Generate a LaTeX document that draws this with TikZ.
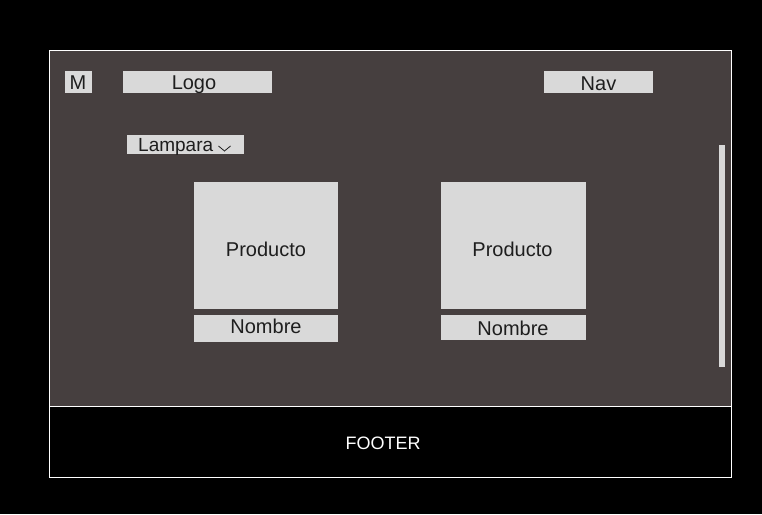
\documentclass[tikz,border=0pt]{standalone}
\usepackage{fontspec}
\setmainfont{Liberation Sans}
\definecolor{panel}{HTML}{463F3F}
\definecolor{boxgray}{HTML}{D9D9D9}
\definecolor{ink}{HTML}{1E1E1E}
\tikzset{
  box/.style={fill=boxgray, draw=none, inner sep=0pt},
  lbl/.style={text=ink, inner sep=0pt, anchor=base, font=\fontsize{20}{22}\selectfont},
  frame/.style={draw=white, line width=1pt},
}
\begin{document}
\begin{tikzpicture}[x=1pt,y=-1pt]
\fill[black] (0,0) rectangle (762,514);
\useasboundingbox (0,0) rectangle (762,514);
% main panel
\filldraw[frame, fill=panel] (49,50) rectangle (731,406);
% footer
\node[frame, fill=black, minimum width=682pt, minimum height=71pt, inner sep=0pt, anchor=north west] (footer) at (49,406) {};
\node[lbl, text=white, font=\fontsize{18}{20}\selectfont] (footertext) at (383,449) {FOOTER};
% header
\node[box, minimum width=27pt, minimum height=22pt] (m) at (78.5,82) {};
\node[lbl] (mt) at (78,89) {M};
\node[box, minimum width=149pt, minimum height=22pt] (logo) at (197.5,82) {};
\node[lbl] (logot) at (194,89) {Logo};
\node[box, minimum width=109pt, minimum height=22pt] (nav) at (598.5,82) {};
\node[lbl] (navt) at (598.5,90) {Nav};
% filter
\node[box, minimum width=117pt, minimum height=19pt] (lamp) at (185.5,144.5) {};
\node[lbl, anchor=base west, font=\fontsize{19}{22}\selectfont] (lamptext) at (138,151.7) {Lampara};
\coordinate (chevl) at (218.5,146);
\coordinate (chevm) at (224.5,151);
\coordinate (chevr) at (230.5,146);
\draw[ink, line width=0.8pt] (chevl) -- (chevm) -- (chevr);
% products
\node[box, minimum width=144pt, minimum height=127pt] (p1) at (266,245.5) {};
\node[lbl] (p1t) at (266,256.7) {Producto};
\node[box, minimum width=144pt, minimum height=27pt] (n1) at (266,328.5) {};
\node[lbl] (n1t) at (266,333.3) {Nombre};
\node[box, minimum width=145pt, minimum height=127pt] (p2) at (513.5,245.5) {};
\node[lbl] (p2t) at (512.5,256.7) {Producto};
\node[box, minimum width=145pt, minimum height=25pt] (n2) at (513.5,327.5) {};
\node[lbl] (n2t) at (513,335.7) {Nombre};
% scrollbar
\fill[boxgray] (719,145) rectangle (725,367);
\end{tikzpicture}
\end{document}
